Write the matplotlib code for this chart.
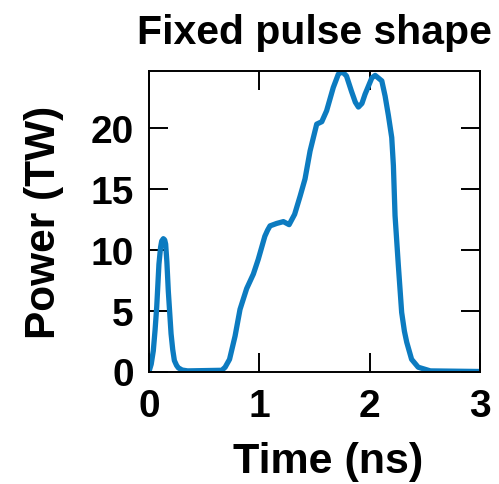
import numpy as np
import matplotlib.pyplot as plt

plt.rcParams['font.family'] = ['Liberation Sans', 'DejaVu Sans']
plt.rcParams['font.weight'] = 'bold'

# pulse shape (time in ns, power in TW)
t_ns = [0.0, 0.02, 0.039, 0.055, 0.07, 0.09, 0.105, 0.115, 0.13, 0.142,
        0.151, 0.162, 0.175, 0.2, 0.215, 0.23, 0.25, 0.266, 0.3, 0.35,
        0.66, 0.69, 0.73, 0.78, 0.825, 0.885, 0.946, 0.99, 1.05, 1.075,
        1.097, 1.157, 1.218, 1.27, 1.32, 1.37, 1.414, 1.46, 1.52, 1.566,
        1.61, 1.67, 1.716, 1.752, 1.79, 1.835, 1.87, 1.898, 1.93, 1.958,
        2.02, 2.05, 2.11, 2.14, 2.17, 2.2, 2.215, 2.23, 2.26, 2.29, 2.315,
        2.336, 2.38, 2.44, 2.55, 3.0]
power_tw = [0.0, 0.6, 1.7, 3.4, 5.3, 8.8, 10.2, 10.7, 10.9, 10.8,
            10.45, 9.0, 6.6, 3.1, 1.8, 0.9, 0.5, 0.3, 0.12, 0.05,
            0.1, 0.35, 1.0, 2.9, 5.1, 6.8, 8.0, 9.2, 11.1, 11.6,
            11.95, 12.15, 12.3, 12.05, 12.9, 14.4, 15.8, 18.1, 20.3, 20.5,
            21.4, 23.3, 24.4, 24.6, 24.25, 23.0, 22.1, 21.7, 22.0, 22.75,
            24.1, 24.3, 23.85, 22.6, 21.0, 19.2, 16.9, 12.8, 8.7, 4.85, 3.3,
            2.4, 1.0, 0.35, 0.05, 0.0]

xticks = [0, 1, 2, 3]
yticks = [0, 5, 10, 15, 20]

fig = plt.figure(figsize=(4.99, 4.85), dpi=100)
ax = fig.add_axes([149/499, 1 - 372.5/485, 331/499, 300.5/485])

ax.plot(t_ns, power_tw, color='#0C7BC0', lw=3.8, solid_joinstyle='round')

ax.set_xlim(0, 3)
ax.set_ylim(0, 24.66)
ax.set_xticks(xticks)
ax.set_yticks(yticks)
ax.tick_params(direction='in', length=13.5, width=1.4, top=True, right=True,
               labelsize=28)
ax.tick_params(axis='x', pad=12)
ax.tick_params(axis='y', pad=11)
for s in ax.spines.values():
    s.set_linewidth(1.4)

ax.set_xlabel('Time (ns)', fontsize=31, fontweight='bold')
ax.xaxis.set_label_coords(0.541, -0.23)
ax.set_ylabel('Power (TW)', fontsize=30.5, fontweight='bold')
ax.yaxis.set_label_coords(-0.257, 0.5)
ax.set_title('Fixed pulse shape', fontsize=29.5, fontweight='bold', pad=20)

fig.savefig('out.png', dpi=100)
